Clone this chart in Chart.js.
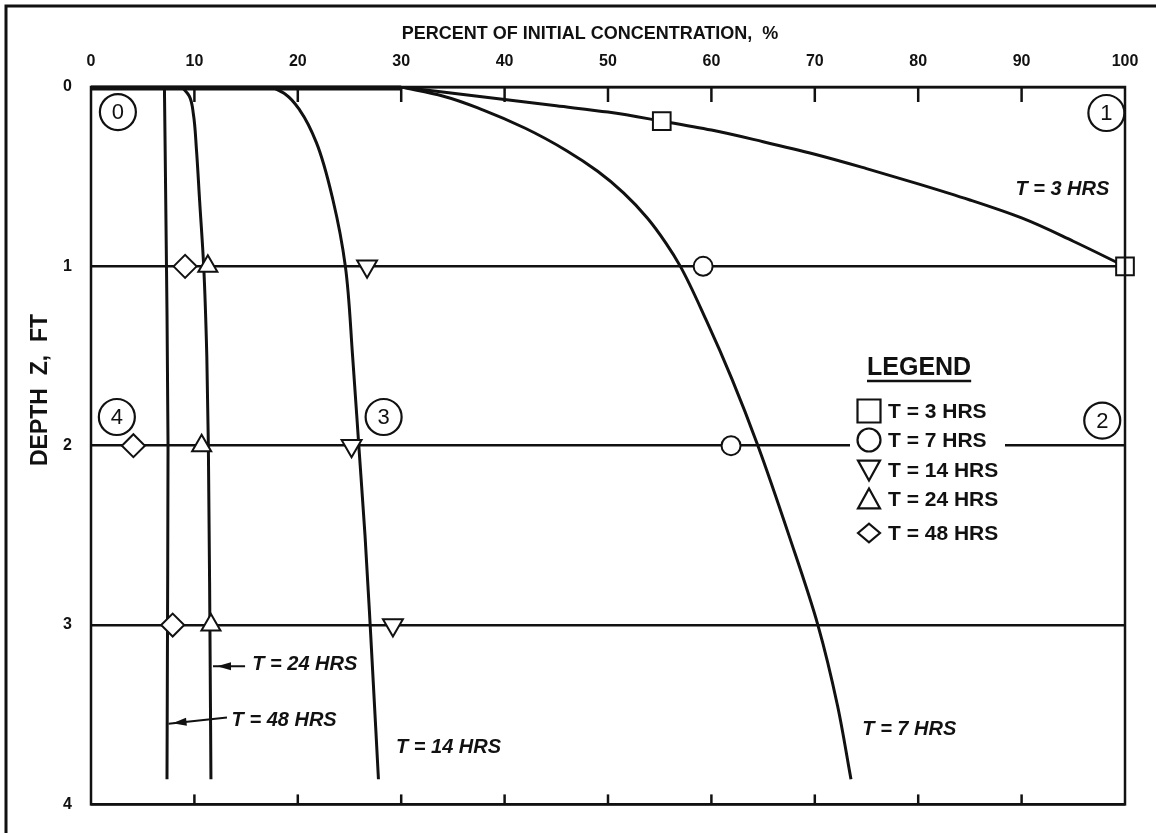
<!DOCTYPE html>
<html>
<head>
<meta charset="utf-8">
<script src="https://cdn.jsdelivr.net/npm/chart.js@4.4.1/dist/chart.umd.min.js"></script>
<style>
html,body{margin:0;padding:0;background:#fff;}
#wrap{width:1156px;height:833px;position:relative;}
</style>
</head>
<body>
<div id="wrap"><canvas id="c" width="1156" height="833"></canvas></div>
<script>
// ---------- data ----------
const pctTicks = [0, 10, 20, 30, 40, 50, 60, 70, 80, 90, 100];
const depthTicks = [0, 1, 2, 3, 4];
const seriesNames = ['T = 3 HRS', 'T = 7 HRS', 'T = 14 HRS', 'T = 24 HRS', 'T = 48 HRS'];

// fitted curves (percent of initial concentration vs depth)
const t3Pct    = [30, 35, 40, 45, 50, 55.2, 60, 65, 70, 75, 80, 85, 90, 95, 100];
const t3Depth  = [0, 0.035, 0.07, 0.105, 0.14, 0.19, 0.24, 0.305, 0.375, 0.455, 0.54, 0.63, 0.73, 0.86, 1.0];
const t7Pct    = [30, 34, 38, 42, 46, 49, 51.5, 53.8, 55.6, 57, 59.5, 62, 64.5, 67.5, 70.3, 72.2, 73.5];
const t7Depth  = [0, 0.05, 0.13, 0.23, 0.355, 0.47, 0.59, 0.73, 0.87, 1.0, 1.3, 1.63, 2.0, 2.5, 3.0, 3.45, 3.86];
const t14Pct   = [17.5, 18.8, 20.2, 21.8, 23.4, 24.6, 25.3, 25.9, 26.5, 27.0, 27.8];
const t14Depth = [0, 0.04, 0.13, 0.31, 0.63, 1.0, 1.5, 2.0, 2.5, 3.0, 3.86];
const t24Pct   = [8.8, 9.5, 9.9, 10.2, 10.5, 10.9, 11.2, 11.35, 11.5, 11.6];
const t24Depth = [0, 0.05, 0.15, 0.35, 0.63, 1.0, 1.5, 2.0, 3.0, 3.86];
const t48Pct   = [7.1, 7.3, 7.45, 7.4, 7.35];
const t48Depth = [0, 1, 2, 3, 3.86];

// measured points
const t3MarkPct    = [55.2, 100];
const t3MarkDepth  = [0.19, 1];
const t7MarkPct    = [59.2, 61.9];
const t7MarkDepth  = [1, 2];
const t14MarkPct   = [26.7, 25.2, 29.2];
const t14MarkDepth = [1, 2, 3];
const t24MarkPct   = [11.3, 10.7, 11.6];
const t24MarkDepth = [1, 2, 3];
const t48MarkPct   = [9.1, 4.1, 7.9];
const t48MarkDepth = [1, 2, 3];

// circled reference numbers
const circleText  = ['0', '1', '2', '3', '4'];
const circlePct   = [2.6, 98.2, 97.8, 28.3, 2.5];
const circleDepth = [0.14, 0.145, 1.86, 1.84, 1.84];

// curve labels
const curveLabelPct   = [89.4, 74.6, 29.5, 15.6, 13.6];
const curveLabelDepth = [0.574, 3.58, 3.68, 3.22, 3.53];
// leader arrows for T=24 and T=48 labels [from, to]
const leaderFromPct   = [14.9, 13.15];
const leaderFromDepth = [3.23, 3.515];
const leaderToPct     = [11.8, 7.5];
const leaderToDepth   = [3.23, 3.55];

// ---------- helpers ----------
const INK = '#111';
const FAM = '"Liberation Sans", Arial, Helvetica, sans-serif';
const zip = (xs, ys) => xs.map((v, i) => ({x: v, y: ys[i]}));

function curve(label, xs, ys) {
  return {label, data: zip(xs, ys), showLine: true, borderColor: INK, borderWidth: 3,
    pointRadius: 0, indexAxis: 'y', cubicInterpolationMode: 'monotone', fill: false, order: 2};
}
function marks(label, xs, ys, style, radius, rotation) {
  return {label, data: zip(xs, ys), showLine: false, pointStyle: style, pointRadius: radius,
    pointRotation: rotation || 0, pointBackgroundColor: '#fff', pointBorderColor: INK,
    pointBorderWidth: 2, clip: false, order: 1};
}

function drawSym(ctx, style, cx, cy, r) {
  ctx.beginPath();
  if (style === 'square') { ctx.rect(cx - r, cy - r, 2 * r, 2 * r); }
  else if (style === 'circle') { ctx.arc(cx, cy, r, 0, Math.PI * 2); }
  else if (style === 'down') { ctx.moveTo(cx - r, cy - r * 0.85); ctx.lineTo(cx + r, cy - r * 0.85); ctx.lineTo(cx, cy + r * 0.95); ctx.closePath(); }
  else if (style === 'up') { ctx.moveTo(cx - r, cy + r * 0.85); ctx.lineTo(cx + r, cy + r * 0.85); ctx.lineTo(cx, cy - r * 0.95); ctx.closePath(); }
  else if (style === 'diamond') { ctx.moveTo(cx - r, cy); ctx.lineTo(cx, cy - r * 0.85); ctx.lineTo(cx + r, cy); ctx.lineTo(cx, cy + r * 0.85); ctx.closePath(); }
  ctx.stroke();
}

const decor = {
  id: 'decor',
  beforeDraw(chart) {
    const c = chart.ctx;
    c.save(); c.fillStyle = '#fff'; c.fillRect(0, 0, chart.width, chart.height); c.restore();
  },
  afterDatasetsDraw(chart) {
    const {ctx, chartArea: a, scales: {x, y}} = chart;
    ctx.save();
    ctx.strokeStyle = INK; ctx.fillStyle = INK; ctx.lineCap = 'butt';

    // outer border of the figure
    ctx.lineWidth = 3;
    ctx.beginPath(); ctx.moveTo(6, 833); ctx.lineTo(6, 6); ctx.lineTo(1156, 6); ctx.stroke();

    // plot frame
    ctx.lineWidth = 2.5;
    ctx.strokeRect(a.left, a.top, a.right - a.left, a.bottom - a.top);
    // heavy surface segment where the profiles coincide
    ctx.lineWidth = 5;
    ctx.beginPath(); ctx.moveTo(x.getPixelForValue(0), a.top + 1); ctx.lineTo(x.getPixelForValue(30), a.top + 1); ctx.stroke();

    // inward ticks
    ctx.lineWidth = 2.5;
    pctTicks.forEach(v => {
      if (v <= 0 || v >= 100) return;
      const px = x.getPixelForValue(v);
      ctx.beginPath(); ctx.moveTo(px, a.top); ctx.lineTo(px, a.top + 15); ctx.stroke();
      ctx.beginPath(); ctx.moveTo(px, a.bottom); ctx.lineTo(px, a.bottom - 10); ctx.stroke();
    });

    // axis titles
    ctx.font = 'bold 18px ' + FAM;
    ctx.textAlign = 'center'; ctx.textBaseline = 'middle';
    ctx.fillText('PERCENT OF INITIAL CONCENTRATION,  %', 590, 34);
    ctx.save();
    ctx.translate(41, 390); ctx.rotate(-Math.PI / 2);
    ctx.font = 'bold 23px ' + FAM;
    ctx.fillText('DEPTH  Z,  FT', 0, 0);
    ctx.restore();

    // circled numbers
    ctx.lineWidth = 2.2;
    circleText.forEach((t, i) => {
      const cx = x.getPixelForValue(circlePct[i]), cy = y.getPixelForValue(circleDepth[i]);
      ctx.beginPath(); ctx.arc(cx, cy, 18, 0, Math.PI * 2); ctx.stroke();
      ctx.font = '22px ' + FAM; ctx.textAlign = 'center'; ctx.textBaseline = 'middle';
      ctx.fillText(t, cx, cy + 1);
    });

    // curve labels
    ctx.font = 'italic bold 20px ' + FAM;
    ctx.textAlign = 'left'; ctx.textBaseline = 'middle';
    seriesNames.forEach((t, i) => {
      ctx.fillText(t, x.getPixelForValue(curveLabelPct[i]), y.getPixelForValue(curveLabelDepth[i]));
    });
    // leader arrows
    ctx.lineWidth = 2;
    leaderFromPct.forEach((v, i) => {
      const x1 = x.getPixelForValue(v), y1 = y.getPixelForValue(leaderFromDepth[i]);
      const x2 = x.getPixelForValue(leaderToPct[i]), y2 = y.getPixelForValue(leaderToDepth[i]);
      ctx.beginPath(); ctx.moveTo(x1, y1); ctx.lineTo(x2, y2); ctx.stroke();
      const ang = Math.atan2(y2 - y1, x2 - x1);
      const tx = x2 - Math.cos(ang) * 4, ty = y2 - Math.sin(ang) * 4;
      ctx.beginPath();
      ctx.moveTo(tx, ty);
      ctx.lineTo(tx - Math.cos(ang) * 14 + Math.sin(ang) * 4, ty - Math.sin(ang) * 14 - Math.cos(ang) * 4);
      ctx.lineTo(tx - Math.cos(ang) * 14 - Math.sin(ang) * 4, ty - Math.sin(ang) * 14 + Math.cos(ang) * 4);
      ctx.closePath(); ctx.fill();
    });

    // legend
    ctx.fillStyle = '#fff';
    ctx.fillRect(850, 350, 155, 200);
    ctx.fillStyle = INK;
    ctx.font = 'bold 25px ' + FAM;
    ctx.textAlign = 'left'; ctx.textBaseline = 'alphabetic';
    ctx.fillText('LEGEND', 867, 375);
    const lw = ctx.measureText('LEGEND').width;
    ctx.lineWidth = 2.5;
    ctx.beginPath(); ctx.moveTo(867, 381); ctx.lineTo(867 + lw, 381); ctx.stroke();
    const symStyles = ['square', 'circle', 'down', 'up', 'diamond'];
    const rowY = [411, 440, 470, 499, 533];
    const symR = [11.5, 11.5, 11, 11, 11];
    ctx.lineWidth = 2.2;
    ctx.font = 'bold 21px ' + FAM; ctx.textBaseline = 'middle';
    seriesNames.forEach((t, i) => {
      drawSym(ctx, symStyles[i], 869, rowY[i], symR[i]);
      ctx.fillText(t, 888, rowY[i] + 1);
    });
    ctx.restore();
  }
};

new Chart(document.getElementById('c'), {
  type: 'scatter',
  data: {
    datasets: [
      marks(seriesNames[0], t3MarkPct, t3MarkDepth, 'rect', 12.5),
      marks(seriesNames[1], t7MarkPct, t7MarkDepth, 'circle', 9.5),
      marks(seriesNames[2], t14MarkPct, t14MarkDepth, 'triangle', 11.5, 180),
      marks(seriesNames[3], t24MarkPct, t24MarkDepth, 'triangle', 11),
      marks(seriesNames[4], t48MarkPct, t48MarkDepth, 'rectRot', 11.5),
      curve(seriesNames[0], t3Pct, t3Depth),
      curve(seriesNames[1], t7Pct, t7Depth),
      curve(seriesNames[2], t14Pct, t14Depth),
      curve(seriesNames[3], t24Pct, t24Depth),
      curve(seriesNames[4], t48Pct, t48Depth)
    ]
  },
  options: {
    responsive: false,
    animation: false,
    devicePixelRatio: 1,
    layout: {padding: {left: 0, top: 0, right: 31, bottom: 28}},
    plugins: {legend: {display: false}, tooltip: {enabled: false}},
    scales: {
      x: {
        type: 'linear', position: 'top', min: 0, max: 100,
        afterFit(s) { s.height = 87; },
        afterBuildTicks(s) { s.ticks = pctTicks.map(v => ({value: v})); },
        grid: {display: false, drawTicks: false},
        border: {display: false},
        ticks: {padding: 16, autoSkip: false, maxRotation: 0, color: INK,
          font: {family: FAM, size: 16, weight: 'bold'}}
      },
      y: {
        type: 'linear', reverse: true, min: 0, max: 4,
        afterFit(s) { s.width = 91; },
        afterBuildTicks(s) { s.ticks = depthTicks.map(v => ({value: v})); },
        grid: {display: true, drawTicks: false, color: INK, lineWidth: 2.5},
        border: {display: false},
        ticks: {padding: 19, autoSkip: false, color: INK,
          font: {family: FAM, size: 16, weight: 'bold'}}
      }
    }
  },
  plugins: [decor]
});
</script>
</body>
</html>
